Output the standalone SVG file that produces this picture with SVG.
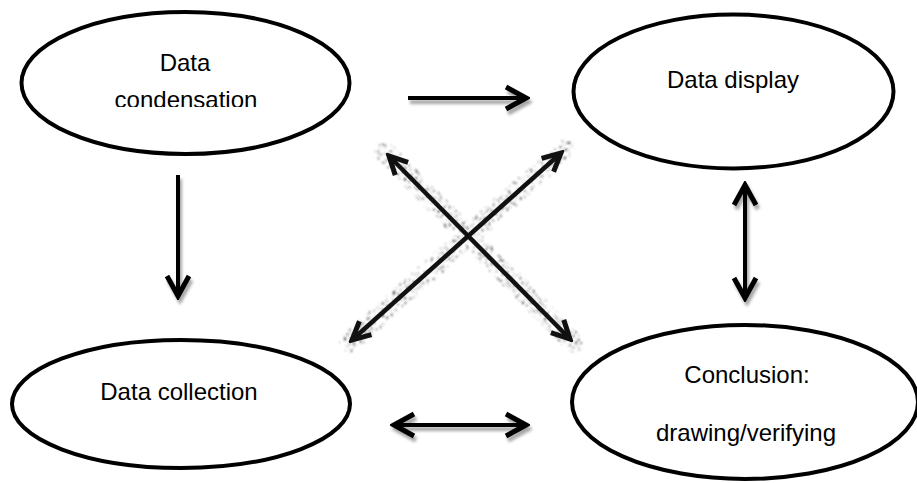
<svg xmlns="http://www.w3.org/2000/svg" width="917" height="483" viewBox="0 0 917 483">
<style>
  .node ellipse { fill: #ffffff; stroke: #000000; stroke-width: 4; }
  .lbl { font-family: "Liberation Sans", Arial, sans-serif; font-size: 24px; fill: #000000; text-anchor: middle; }
  .arrow { fill: none; stroke: #000000; stroke-width: 4; }
  .grain { fill: none; stroke: #333333; stroke-width: 20; stroke-linecap: round; }
  .xline { fill: none; stroke: #111111; stroke-width: 4.5; }
</style>
<defs>
  <marker id="chev" viewBox="-26 -15 30 30" markerWidth="30" markerHeight="30" refX="0" refY="0" orient="auto-start-reverse" markerUnits="userSpaceOnUse">
    <path d="M -20 -11 L 0 0 L -20 11" fill="none" stroke="#000" stroke-width="5" stroke-linejoin="miter"/>
  </marker>
  <marker id="chevx" viewBox="-26 -15 30 30" markerWidth="30" markerHeight="30" refX="0" refY="0" orient="auto-start-reverse" markerUnits="userSpaceOnUse">
    <path d="M -18 -9 L 0 0 L -18 9" fill="none" stroke="#111" stroke-width="5"/>
  </marker>
  <filter id="shadow" x="-20%" y="-40%" width="140%" height="180%">
    <feDropShadow dx="2" dy="4" stdDeviation="1.5" flood-color="#000" flood-opacity="0.35"/>
  </filter>
  <filter id="speckle" x="-10%" y="-10%" width="120%" height="120%">
    <feTurbulence type="fractalNoise" baseFrequency="0.45" numOctaves="1" seed="7" result="n"/>
    <feColorMatrix in="n" type="matrix" values="0 0 0 0 0  0 0 0 0 0  0 0 0 0 0  12 0 0 0 -7.2" result="m"/>
    <feComposite in="SourceGraphic" in2="m" operator="in" result="c"/>
    <feGaussianBlur in="c" stdDeviation="0.8"/>
  </filter>
  <clipPath id="cut"><rect x="0" y="0" width="360" height="107"/></clipPath>
</defs>

<g id="node-condensation" class="node">
  <ellipse cx="185.5" cy="83" rx="164" ry="71"/>
  <text class="lbl" x="185" y="71">Data</text>
  <text class="lbl" x="186" y="108" clip-path="url(#cut)">condensation</text>
</g>

<g id="node-display" class="node">
  <ellipse cx="733.5" cy="91.5" rx="160" ry="77"/>
  <text class="lbl" x="733" y="88">Data display</text>
</g>

<g id="node-collection" class="node">
  <ellipse cx="181" cy="404" rx="169" ry="64"/>
  <text class="lbl" x="179" y="400">Data collection</text>
</g>

<g id="node-conclusion" class="node">
  <ellipse cx="745" cy="402" rx="173" ry="77"/>
  <text class="lbl" x="747" y="383">Conclusion:</text>
  <text class="lbl" x="746" y="441">drawing/verifying</text>
</g>

<g id="connectors">
  <g filter="url(#shadow)">
    <line class="arrow" x1="408" y1="98" x2="526" y2="98" marker-end="url(#chev)"/>
    <line class="arrow" x1="178" y1="175" x2="178" y2="296" marker-end="url(#chev)"/>
    <line class="arrow" x1="394" y1="425" x2="526" y2="425" marker-start="url(#chev)" marker-end="url(#chev)"/>
    <line class="arrow" x1="745" y1="185" x2="745" y2="298" marker-start="url(#chev)" marker-end="url(#chev)"/>
  </g>
  <g filter="url(#speckle)">
    <line class="grain" x1="385" y1="152" x2="574" y2="343"/>
    <line class="grain" x1="349" y1="343" x2="564" y2="150"/>
  </g>
  <line class="xline" x1="389" y1="156" x2="570" y2="339" marker-start="url(#chevx)" marker-end="url(#chevx)"/>
  <line class="xline" x1="352" y1="340" x2="561" y2="153" marker-start="url(#chevx)" marker-end="url(#chevx)"/>
</g>
</svg>
